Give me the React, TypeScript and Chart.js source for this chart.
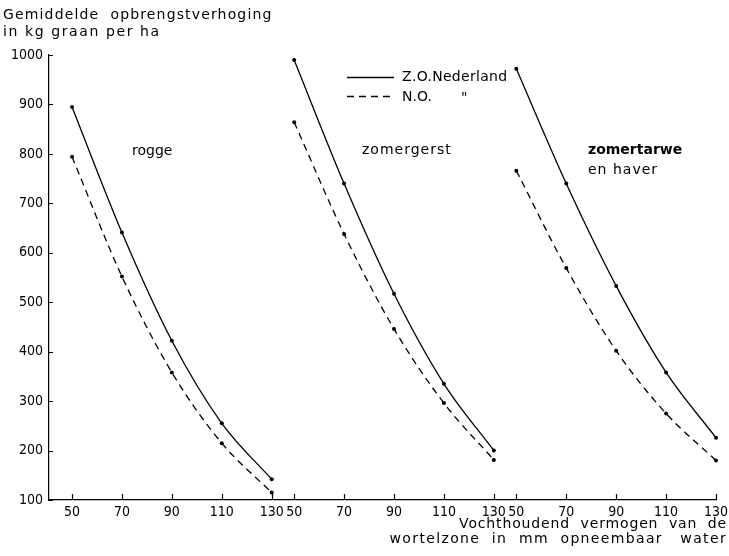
import React, { useEffect, useRef } from 'react';
import { Chart, registerables } from 'chart.js';

Chart.register(...registerables);

// ---- data ----
const moisture = [50, 70, 90, 110, 130];
const panelShift = [0, 89, 178]; // horizontal offset of each crop panel on the shared axis
const cropLabels = ['rogge', 'zomergerst', 'zomertarwe', 'en haver'];
const roggeZO = [895, 641, 422, 255, 142];
const roggeNO = [794, 552, 358, 215, 115];
const gerstZO = [990, 740, 517, 335, 200];
const gerstNO = [864, 638, 446, 296, 181];
const tarweZO = [972, 740, 533, 358, 226];
const tarweNO = [766, 569, 402, 275, 180];
const yTickValues = [100, 200, 300, 400, 500, 600, 700, 800, 900, 1000];
const legendLabels = ['Z.O.Nederland', 'N.O.'];
const yTitle = ['Gemiddelde  opbrengstverhoging', 'in kg graan per ha'];
const xTitle = ['Vochthoudend  vermogen  van  de', 'wortelzone  in  mm  opneembaar   water'];

const xTickValues: number[] = [];
const xTickText: Record<string, string> = {};
panelShift.forEach((s) => {
  moisture.forEach((m) => {
    xTickValues.push(s + m);
    xTickText[String(s + m)] = String(m);
  });
});

const FONT = '"DejaVu Sans", sans-serif';
const TICK_FONT = '"DejaVu Sans Condensed", "DejaVu Sans", sans-serif';

function series(values: number[], panel: number) {
  return moisture.map((m, i) => ({ x: m + panelShift[panel], y: values[i] }));
}

function makeDataset(label: string, values: number[], panel: number, dashed: boolean) {
  return {
    label,
    data: series(values, panel),
    borderColor: '#000',
    backgroundColor: '#000',
    borderWidth: 1.3,
    borderDash: dashed ? [7, 5] : [],
    pointRadius: 2,
    pointBorderWidth: 0,
    pointBackgroundColor: '#000',
    tension: 0.4,
    cubicInterpolationMode: 'monotone' as const,
    fill: false,
    clip: false as const,
  };
}

function text(ctx: any, s: string, x: number, y: number, spacing: number) {
  ctx.letterSpacing = `${spacing}px`;
  ctx.fillText(s, x, y);
  ctx.letterSpacing = '0px';
}

const decorPlugin = {
  id: 'decor',
  afterDraw(chart: any) {
    const ctx = chart.ctx as any;
    const xs = chart.scales.x;
    const ys = chart.scales.y;
    const area = chart.chartArea;
    ctx.save();
    ctx.strokeStyle = '#000';
    ctx.lineWidth = 1.2;
    ctx.setLineDash([]);
    ctx.beginPath();
    yTickValues.forEach((v) => {
      const py = Math.round(ys.getPixelForValue(v)) + 0.5;
      ctx.moveTo(area.left, py);
      ctx.lineTo(area.left + 4, py);
    });
    xTickValues.forEach((v) => {
      const px = Math.round(xs.getPixelForValue(v)) + 0.5;
      ctx.moveTo(px, area.bottom);
      ctx.lineTo(px, area.bottom - 6);
    });
    ctx.stroke();

    ctx.fillStyle = '#000';
    ctx.textBaseline = 'middle';
    ctx.textAlign = 'left';
    ctx.font = `14px ${FONT}`;
    text(ctx, yTitle[0], 3, 15, 1.15);
    text(ctx, yTitle[1], 3, 32, 1.6);

    text(ctx, cropLabels[0], 132, 151, 0);
    text(ctx, cropLabels[1], 362, 150, 1);
    ctx.font = `bold 14px ${FONT}`;
    text(ctx, cropLabels[2], 588, 150, 0);
    ctx.font = `14px ${FONT}`;
    text(ctx, cropLabels[3], 588, 170, 1);

    // legend
    ctx.lineWidth = 1.3;
    ctx.beginPath();
    ctx.moveTo(347, 77.5);
    ctx.lineTo(394, 77.5);
    ctx.stroke();
    ctx.setLineDash([7, 5]);
    ctx.beginPath();
    ctx.moveTo(347, 96.5);
    ctx.lineTo(394, 96.5);
    ctx.stroke();
    ctx.setLineDash([]);
    text(ctx, legendLabels[0], 402, 77, 0.3);
    text(ctx, legendLabels[1], 402, 97, 0);
    ctx.fillText('"', 461, 98);

    ctx.textAlign = 'right';
    text(ctx, xTitle[0], 727, 524, 0.85);
    text(ctx, xTitle[1], 727, 539, 1.35);
    ctx.restore();
  },
};

export default function App() {
  const ref = useRef<HTMLCanvasElement | null>(null);
  useEffect(() => {
    if (!ref.current) return;
    const chart = new Chart(ref.current, {
      type: 'line',
      data: {
        datasets: [
          makeDataset('rogge Z.O.', roggeZO, 0, false),
          makeDataset('rogge N.O.', roggeNO, 0, true),
          makeDataset('zomergerst Z.O.', gerstZO, 1, false),
          makeDataset('zomergerst N.O.', gerstNO, 1, true),
          makeDataset('zomertarwe Z.O.', tarweZO, 2, false),
          makeDataset('zomertarwe N.O.', tarweNO, 2, true),
        ],
      },
      options: {
        animation: false,
        responsive: false,
        layout: { padding: { top: 55, left: 0, right: 13, bottom: 0 } },
        plugins: { legend: { display: false }, tooltip: { enabled: false }, title: { display: false } },
        scales: {
          x: {
            type: 'linear',
            min: 40.78,
            max: 308,
            afterFit: (s: any) => {
              s.height = 56;
              s.paddingLeft = 0;
              s.paddingRight = 0;
            },
            afterBuildTicks: (s: any) => {
              s.ticks = xTickValues.map((v) => ({ value: v }));
            },
            grid: { display: false, drawTicks: false },
            border: { display: true, color: '#000', width: 1.2 },
            ticks: {
              padding: 4,
              autoSkip: false,
              maxRotation: 0,
              color: '#000',
              font: { family: TICK_FONT, size: 14 },
              callback: (v: any) => xTickText[String(v)] ?? '',
            },
          },
          y: {
            type: 'linear',
            min: 100,
            max: 1000,
            afterFit: (s: any) => {
              s.width = 49;
              s.paddingTop = 0;
              s.paddingBottom = 0;
            },
            afterBuildTicks: (s: any) => {
              s.ticks = yTickValues.map((v) => ({ value: v }));
            },
            grid: { display: false, drawTicks: false },
            border: { display: true, color: '#000', width: 1.2 },
            ticks: {
              padding: 6,
              color: '#000',
              font: { family: TICK_FONT, size: 14 },
              callback: (v: any) => String(v),
            },
          },
        },
      },
      plugins: [decorPlugin],
    });
    return () => chart.destroy();
  }, []);
  return (
    <div style={{ position: 'fixed', left: 0, top: 0, width: 729, height: 556, background: '#fff' }}>
      <canvas ref={ref} width={729} height={556} style={{ display: 'block' }} />
    </div>
  );
}
